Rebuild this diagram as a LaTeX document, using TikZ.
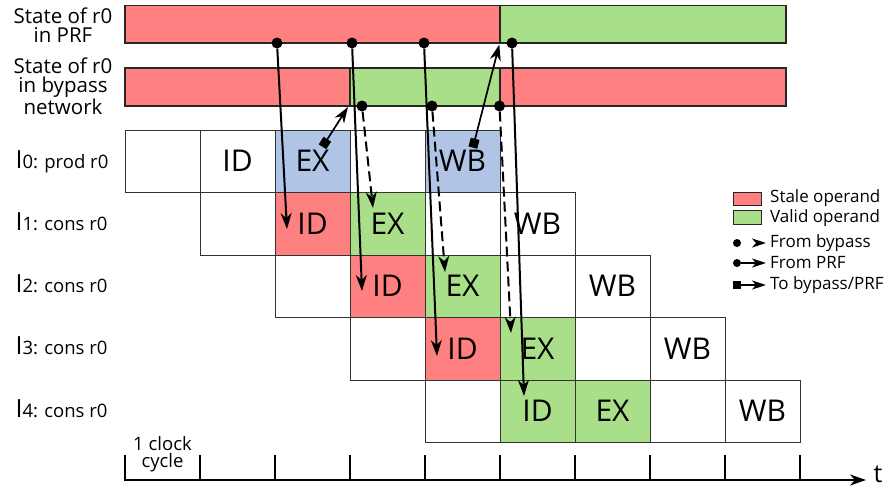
\documentclass[tikz,border=0pt]{standalone}
\usepackage{fontspec}
\setmainfont{Open Sans}
\usetikzlibrary{arrows.meta,positioning}
\definecolor{stale}{RGB}{255,128,128}
\definecolor{valid}{RGB}{169,223,137}
\definecolor{prod}{RGB}{176,196,230}

\begin{document}
\begin{tikzpicture}[x=1pt,y=-1pt,node distance=75pt,>={Stealth[length=16pt,width=11pt,inset=5pt]},
  cell/.style={draw=black!80,line width=0.9pt,minimum width=75pt,minimum height=62.5pt,inner sep=0pt,font=\fontsize{30}{30}\selectfont},
  bar/.style={draw=black!85,line width=1.2pt},
  dot/.style={circle,fill,inner sep=0pt,minimum size=11pt},
  ldot/.style={circle,fill,inner sep=0pt,minimum size=8pt},
  prf/.style={->,line width=2pt},
  byp/.style={->,line width=2pt,dash pattern=on 10pt off 5pt},
  wr/.style={{Square[length=9pt,width=9pt]}->,line width=1.7pt},
  lbl/.style={font=\fontsize{20.5}{19.5}\selectfont,align=center},
  ins/.style={anchor=base west,font=\fontsize{18.5}{18.5}\selectfont},
  leg/.style={anchor=west,font=\fontsize{17}{17}\selectfont,inner sep=0pt}]
  \useasboundingbox (0,0) rectangle (889,488);

  \draw[bar,fill=stale] (125,5.5) rectangle (500,43);
  \draw[bar,fill=valid] (500,5.5) rectangle (786,43);
  \draw[bar,fill=stale] (125,68) rectangle (350,106);
  \draw[bar,fill=valid] (350,68) rectangle (500,106);
  \draw[bar,fill=stale] (500,68) rectangle (786,106);
  \node[lbl] (prfl) at (63,25) {State of r0\\in PRF};
  \node[lbl] (bypl) at (63,86) {State of r0\\in bypass\\network};

  \node[cell] (01) at (162.5,161.25) {};
  \node[cell] (02) [right of=01] {ID};
  \node[cell,fill=prod] (03) [right of=02] {EX};
  \node[cell] (04) [right of=03] {};
  \node[cell,fill=prod] (05) [right of=04] {WB};

  \node[cell] (11) at (237.5,223.75) {};
  \node[cell,fill=stale] (12) [right of=11] {ID};
  \node[cell,fill=valid] (13) [right of=12] {EX};
  \node[cell] (14) [right of=13] {};
  \node[cell] (15) [right of=14] {WB};

  \node[cell] (21) at (312.5,286.25) {};
  \node[cell,fill=stale] (22) [right of=21] {ID};
  \node[cell,fill=valid] (23) [right of=22] {EX};
  \node[cell] (24) [right of=23] {};
  \node[cell] (25) [right of=24] {WB};

  \node[cell] (31) at (387.5,348.75) {};
  \node[cell,fill=stale] (32) [right of=31] {ID};
  \node[cell,fill=valid] (33) [right of=32] {EX};
  \node[cell] (34) [right of=33] {};
  \node[cell] (35) [right of=34] {WB};

  \node[cell] (41) at (462.5,411.25) {};
  \node[cell,fill=valid] (42) [right of=41] {ID};
  \node[cell,fill=valid] (43) [right of=42] {EX};
  \node[cell] (44) [right of=43] {};
  \node[cell] (45) [right of=44] {WB};

  \node[ins] (i0) at (12,168) {{\fontsize{25}{25}\selectfont I}0: prod r0};
  \node[ins] (i1) at (12,230) {{\fontsize{25}{25}\selectfont I}1: cons r0};
  \node[ins] (i2) at (12,292) {{\fontsize{25}{25}\selectfont I}2: cons r0};
  \node[ins] (i3) at (12,354) {{\fontsize{25}{25}\selectfont I}3: cons r0};
  \node[ins] (i4) at (12,417) {{\fontsize{25}{25}\selectfont I}4: cons r0};

  \node[dot] (p1) at (277,43) {};
  \node[dot] (p2) at (352,43) {};
  \node[dot] (p3) at (424,43) {};
  \node[dot] (p4) at (512,43) {};
  \node[dot] (b1) at (362,106) {};
  \node[dot] (b2) at (432,106) {};
  \node[dot] (b3) at (499.5,106) {};
  \coordinate (w1) at (322.5,146.8);
  \coordinate (w2) at (472.9,147.6);
  \coordinate (wb) at (348,107);
  \coordinate (wp) at (499.3,44.5);
  \coordinate (q1) at (287,229);
  \coordinate (q2) at (362,291);
  \coordinate (q3) at (437,356);
  \coordinate (q4) at (524,396);
  \coordinate (e1) at (373,208);
  \coordinate (e2) at (445,272);
  \coordinate (e3) at (511,333);

  \draw[prf] (p1) -- (q1);
  \draw[prf] (p2) -- (q2);
  \draw[prf] (p3) -- (q3);
  \draw[prf] (p4) -- (q4);
  \draw[byp] (b1) -- (e1);
  \draw[byp] (b2) -- (e2);
  \draw[byp] (b3) -- (e3);
  \draw[wr] (w1) -- (wb);
  \draw[wr] (w2) -- (wp);

  \draw[bar,line width=0.9pt,fill=stale] (733,192) rectangle (761,205.5);
  \draw[bar,line width=0.9pt,fill=valid] (733,210.5) rectangle (761,224);
  \node[leg] (l1) at (770,198) {Stale operand};
  \node[leg] (l2) at (770,218) {Valid operand};
  \node[leg] (l3) at (770,243) {From bypass};
  \node[leg] (l4) at (770,263) {From PRF};
  \node[leg] (l5) at (770,285) {To bypass/PRF};
  \node[ldot] (d3) at (737,243) {};
  \node[ldot] (d4) at (737,263) {};
  \coordinate (s5) at (733,285);
  \coordinate (t3) at (766,243);
  \coordinate (t4) at (766,263);
  \coordinate (t5) at (766,285);
  \draw[->,line width=1.4pt,dash pattern=on 0pt off 20pt,>={Stealth[length=14pt,width=9pt,inset=4pt]}] (d3) -- (t3);
  \draw[->,line width=1.4pt,>={Stealth[length=14pt,width=9pt,inset=4pt]}] (d4) -- (t4);
  \draw[{Square[length=7.5pt,width=7.5pt]}->,line width=1.4pt,>={Stealth[length=14pt,width=9pt,inset=4pt]}] (s5) -- (t5);

  \foreach \x in {125,200,...,800}
    \draw[line width=2pt] (\x,455) -- (\x,480);
  \coordinate (a0) at (124,480);
  \coordinate (a1) at (866,480);
  \draw[->,line width=2.2pt] (a0) -- (a1);
  \node[font=\fontsize{25}{25}\selectfont,anchor=base,inner sep=0pt] (tl) at (878,482) {t};
  \node[align=center,font=\fontsize{18.5}{17}\selectfont] (clk) at (162.5,454) {1 clock\\cycle};
\end{tikzpicture}
\end{document}
